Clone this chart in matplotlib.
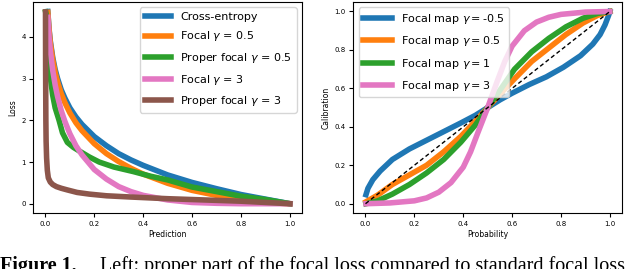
import matplotlib
matplotlib.use("Agg")
import matplotlib.pyplot as plt

# left panel: loss vs prediction
pred = [0.01, 0.015, 0.02, 0.03, 0.04, 0.05, 0.065, 0.08, 0.1, 0.125, 0.15,
        0.2, 0.25, 0.3, 0.35, 0.4, 0.5, 0.6, 0.7, 0.8, 0.9, 1.0]
loss_ce = [4.61, 4.20, 3.91, 3.51, 3.22, 3.00, 2.73, 2.53, 2.30, 2.08, 1.90,
           1.61, 1.39, 1.20, 1.05, 0.92, 0.69, 0.51, 0.36, 0.22, 0.11, 0.0]
loss_focal05 = [4.59, 4.17, 3.87, 3.46, 3.15, 2.92, 2.64, 2.42, 2.18, 1.94, 1.75,
                1.44, 1.20, 1.01, 0.85, 0.71, 0.49, 0.32, 0.20, 0.10, 0.03, 0.0]
loss_focal3 = [4.47, 4.01, 3.68, 3.20, 2.85, 2.57, 2.23, 1.97, 1.68, 1.39, 1.17,
               0.82, 0.59, 0.41, 0.29, 0.20, 0.09, 0.03, 0.01, 0.0, 0.0, 0.0]

pred_proper05 = [0.001, 0.005, 0.008, 0.012, 0.016, 0.022, 0.03, 0.04, 0.056, 0.07,
                 0.09, 0.115, 0.14, 0.18, 0.22, 0.28, 0.36, 0.43, 0.5, 0.6, 0.7,
                 0.8, 0.9, 1.0]
loss_proper05 = [4.6, 4.5, 4.35, 3.95, 3.5, 2.95, 2.6, 2.3, 2.0, 1.7,
                 1.47, 1.35, 1.26, 1.12, 1.0, 0.88, 0.77, 0.66, 0.57, 0.40, 0.29,
                 0.18, 0.10, 0.0]

pred_proper3 = [0.0005, 0.001, 0.002, 0.003, 0.005, 0.008, 0.012, 0.02, 0.03, 0.045,
                0.065, 0.09, 0.13, 0.18, 0.25, 0.35, 0.5, 0.65, 0.8, 0.9, 1.0]
loss_proper3 = [4.6, 3.2, 2.0, 1.5, 1.1, 0.8, 0.62, 0.52, 0.46, 0.41,
                0.37, 0.33, 0.27, 0.23, 0.19, 0.16, 0.12, 0.09, 0.06, 0.03, 0.0]

# right panel: focal calibration maps
prob_m05 = [0.002, 0.01, 0.03, 0.06, 0.11, 0.18, 0.25, 0.32, 0.39, 0.45, 0.5,
            0.55, 0.6, 0.67, 0.74, 0.81, 0.88, 0.93, 0.96, 0.98, 0.995, 1.0]
calib_m05 = [0.047, 0.08, 0.125, 0.17, 0.23, 0.285, 0.33, 0.375, 0.42, 0.46, 0.5,
             0.54, 0.575, 0.62, 0.66, 0.71, 0.77, 0.83, 0.88, 0.93, 0.98, 1.0]

prob_grid = [0.002, 0.05, 0.11, 0.18, 0.25, 0.32, 0.39, 0.45, 0.5, 0.55, 0.61,
             0.68, 0.75, 0.82, 0.89, 0.95, 1.0]
calib_05 = [0.01, 0.045, 0.10, 0.15, 0.20, 0.27, 0.35, 0.43, 0.5, 0.57, 0.65,
            0.74, 0.81, 0.88, 0.94, 0.98, 1.0]
calib_1 = [0.0, 0.015, 0.05, 0.10, 0.16, 0.23, 0.32, 0.41, 0.5, 0.59, 0.70,
           0.79, 0.86, 0.92, 0.965, 0.99, 1.0]

prob_3 = [0.002, 0.1, 0.2, 0.25, 0.3, 0.35, 0.4, 0.43, 0.46, 0.5, 0.54, 0.57,
          0.6, 0.65, 0.7, 0.75, 0.8, 0.9, 1.0]
calib_3 = [0.0, 0.004, 0.015, 0.03, 0.06, 0.11, 0.19, 0.27, 0.37, 0.5, 0.64, 0.74,
           0.82, 0.9, 0.945, 0.97, 0.985, 0.997, 1.0]

diag = [0.0, 1.0]

lw = 4
fig = plt.figure(figsize=(6.4, 2.69), dpi=100)
ax1 = fig.add_axes([0.052, 0.207, 0.42, 0.786])
ax2 = fig.add_axes([0.552, 0.207, 0.42, 0.786])

ax1.plot(pred, loss_ce, color="tab:blue", lw=lw, label="Cross-entropy")
ax1.plot(pred, loss_focal05, color="tab:orange", lw=lw, label=r"Focal $\gamma$ = 0.5")
ax1.plot(pred_proper05, loss_proper05, color="tab:green", lw=lw,
         label=r"Proper focal $\gamma$ = 0.5")
ax1.plot(pred, loss_focal3, color="tab:pink", lw=lw, label=r"Focal $\gamma$ = 3")
ax1.plot(pred_proper3, loss_proper3, color="tab:brown", lw=lw,
         label=r"Proper focal $\gamma$ = 3")
ax1.set_xlabel("Prediction", fontsize=5.5, labelpad=2)
ax1.set_ylabel("Loss", fontsize=5.5, labelpad=3)
ax1.set_yticks([0, 1, 2, 3, 4])
ax1.legend(loc="upper right", fontsize=8, handlelength=2.4, labelspacing=0.68)

ax2.plot(prob_m05, calib_m05, color="tab:blue", lw=lw, label=r"Focal map $\gamma = $-0.5")
ax2.plot(prob_grid, calib_05, color="tab:orange", lw=lw, label=r"Focal map $\gamma = $0.5")
ax2.plot(prob_grid, calib_1, color="tab:green", lw=lw, label=r"Focal map $\gamma = $1")
ax2.plot(prob_3, calib_3, color="tab:pink", lw=lw, label=r"Focal map $\gamma = $3")
ax2.plot(diag, diag, color="black", lw=1, ls=(0, (3, 2)))
ax2.set_xlabel("Probability", fontsize=5.5, labelpad=2)
ax2.set_ylabel("Calibration", fontsize=5.5, labelpad=3)
ax2.legend(loc="upper left", fontsize=8, handlelength=2.6, labelspacing=0.75)

for ax in (ax1, ax2):
    ax.set_xticks([0.0, 0.2, 0.4, 0.6, 0.8, 1.0])
    ax.tick_params(labelsize=5, length=3, pad=2.5)

# caption, cut off at the bottom edge as in the reference
fig.text(0.0, -0.009, "Figure 1.", fontsize=14.5, fontweight="bold",
         family="Liberation Serif", va="baseline")
fig.text(0.157, -0.009, "Left: proper part of the focal loss compared to standard focal loss",
         fontsize=14.5, family="Liberation Serif", va="baseline")

fig.savefig("out.png", dpi=100)
